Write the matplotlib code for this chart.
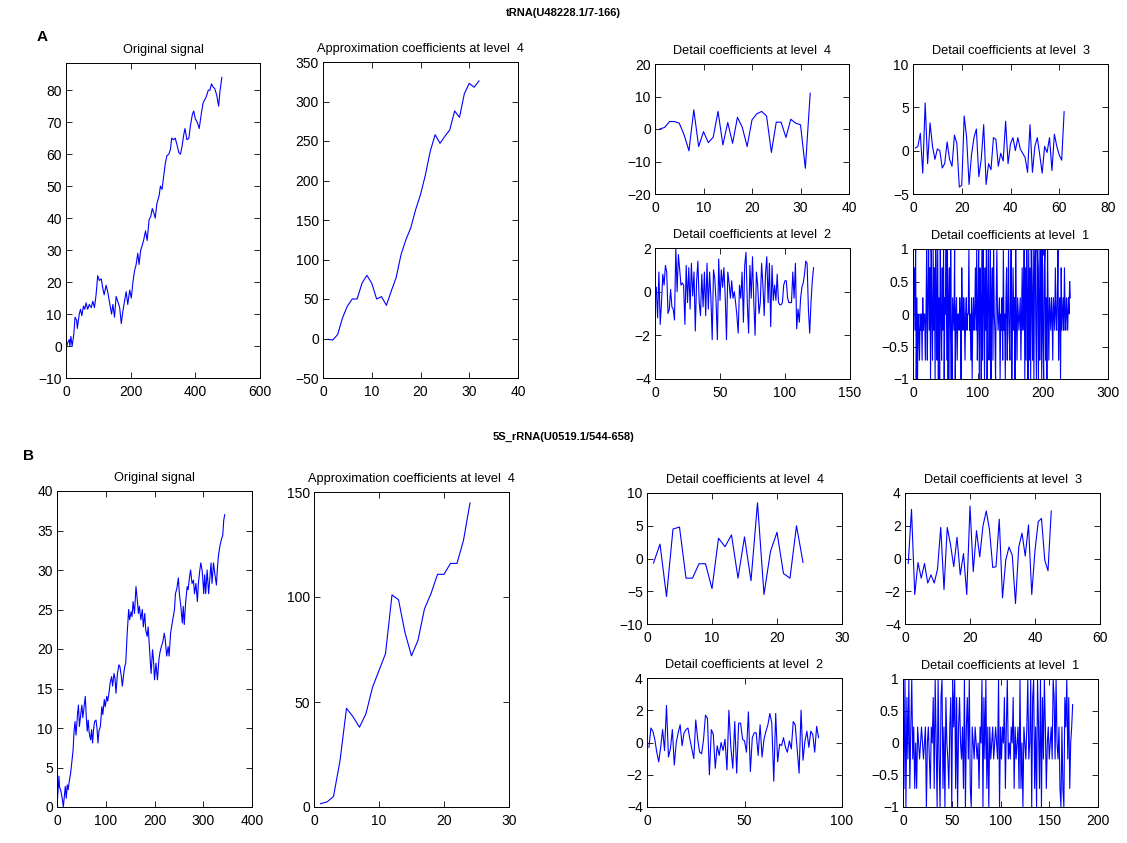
import matplotlib
matplotlib.use("Agg")
import matplotlib.pyplot as plt

plt.rcParams['font.family'] = ['Liberation Sans', 'DejaVu Sans']

W, H = 1127, 843

# ---- tRNA (row A) ----
a_sig_x = [0, 5, 10, 12, 15, 19, 24, 28, 33, 35, 41, 45, 49, 54, 58, 62, 67, 72, 78, 83,
           88, 93, 98, 103, 109, 114, 118, 124, 129, 134, 141, 145, 150, 155, 160, 166, 171, 176, 181, 186,
           191, 197, 202, 207, 212, 217, 222, 226, 231, 236, 241, 246, 251, 257, 262, 267, 272, 276, 281, 288,
           292, 297, 302, 307, 312, 318, 323, 327, 333, 338, 343, 349, 354, 359, 364, 368, 374, 380, 385, 391,
           395, 400, 406, 412, 419, 424, 429, 434, 440, 445, 450, 455, 460, 466, 472, 476, 482]
a_sig_y = [-1, 1, 2, 0, 3, 0, 3.5, 9, 8, 5.5, 10, 11.5, 9.5, 12.5, 11.5, 13.5, 11.5, 13, 12, 14,
           12, 16, 22, 20.5, 21, 18, 16, 19, 17, 14, 10, 13, 9, 15.5, 14, 12, 7, 11, 14, 17,
           13, 17.5, 15, 20, 23.5, 25.5, 29, 25.5, 30, 31.5, 33.5, 36, 33, 39.5, 40.5, 43, 41.5, 40, 44.5, 47,
           50, 49, 53, 57, 59.5, 60, 61.5, 65, 64.5, 65, 63, 60.5, 60, 62.5, 66, 68, 64.5, 65, 69, 72.5,
           73.5, 71, 70, 68, 73, 76, 77, 78, 80, 80, 82, 81, 80.5, 78.5, 75, 79.5, 84]

a_approx4 = [-1, -2, 5, 26, 41, 50, 50, 70, 80, 70, 50, 53, 42, 60, 77, 106, 125, 140, 163, 182,
             207, 237, 258, 247, 256, 264, 288, 280, 310, 323, 318, 326]

a_det4 = [0, 0.5, 2.3, 2.3, 1.8, -1.8, -6.7, 5.9, -5.4, -0.8, -4.2, -2.5, 5.4, -4.9, 2, -4.4,
          3.6, 0.5, -5.4, 2.8, 4.7, 5.4, 4, -7.2, 2.1, 2.1, -2.6, 3, 1.8, 1.3, -12.1, 11]

a_det3 = [0.3, 0.5, 2, -2.6, 5.5, -1.5, 3.2, 0.5, -1, 0.2,
          0, -2, -1.5, 1, -1, -1.8, 1.8, 0.8, -4.2, -4,
          4, 1.5, -3.9, -0.5, 1.5, 2.5, -3, -1, 3, -3.9,
          -1.5, -2.2, 1.5, 1.3, -1.8, -0.3, -1.2, 3.4, -1.5, 0.8,
          1.5, 0, 1.5, 0.2, -0.3, -0.8, -2.5, 3, -2.5, 0.5,
          1.5, -0.5, -2.6, 0.5, -0.2, 1.5, -2.3, 1.9, 0.5, -0.5,
          -1.1, 4.5]

a_det2 = [0.2, -1.2, 0.9, -1.5, -0.5, 0.8, 0.3, 1.2, 0.9, -1,
          -0.8, 0.1, -0.7, -0.8, -1.3, 2, 0, 1.7, 1, 0.3,
          0.4, 0.3, -1.5, 1.2, -0.5, 1.1, -0.8, 1.3, -0.2, 0.9,
          -1.8, 0.5, 1.4, -0.5, -1.1, 0.8, -0.7, 0.9, -1.1, 1.3,
          -0.8, 0.9, -0.3, -2.2, 1, 0.6, -0.5, -2.2, 1.5, -0.4,
          1, 0.2, 1.1, -0.2, -2.2, 0.9, 0.4, -0.3, 0.5, -0.3,
          0, -0.5, -1.1, -1.9, 0.3, -0.3, 0.9, -1.4, 1.2, 1.8,
          -0.5, -1.9, 1.2, -0.3, 1.6, -0.5, -2, 0.9, 0.3, -1,
          -0.5, 1.3, 0.3, -1.1, 0.8, 1.6, -0.5, 1.3, -1.6, 1.2,
          -0.4, 0.3, -0.4, 0.8, -0.5, -0.6, -0.6, -0.5, 0.3, 0.5,
          0.5, -0.3, -0.5, -0.5, -0.5, 0.9, -0.3, 1.3, -1.7, -0.8,
          -1.4, -0.3, 0.2, 0.4, 0.8, 1.4, 1.3, -0.8, -1.9, -0.5,
          0.5, 1.1]

a_det1 = [0.71, 0.71, -0.25, 1, -1, 0.25, -1, 0, -0.25, -0.71,
          0, -0.25, 0, -0.71, 0.25, -0.25, 0, 0, -0.71, 0,
          1, -0.71, 0.25, 1, -0.25, 0.71, -1, 1, 0, -0.71,
          1, -0.25, 0.71, -1, 1, 0.25, -0.71, 1, -1, 0.25,
          -1, 1, 0, -0.71, 0.71, -0.25, 1, -1, 0.25, 0,
          1, -0.71, 1, -1, 0.25, 0.71, -1, 1, -0.25, -1,
          0.25, 0, -0.25, 1, -1, 0, 0.25, -0.71, 0, 0,
          -0.25, 0.25, 0, -1, 0.71, 0, -0.25, 0.25, 0, -0.71,
          0, 0.25, -0.25, 0, 0, 1, -0.25, 0, -0.71, 0.25,
          -1, 0, 0.25, -0.25, 0, 0.71, -0.25, 1, -0.71, 0,
          1, -1, 0.71, 0.25, -1, 1, -0.71, 1, 0.25, -1,
          0.71, -0.25, 1, -1, 0.25, 1, -0.71, 0, 1, -1,
          0.25, 0.71, -0.71, 1, 0, -0.25, -1, 0.25, 1, 0,
          -0.25, 0, 0.25, -1, 0, -0.25, 0.25, -0.71, 1, -0.25,
          0, -1, 0.25, 0.71, -0.71, 0, 1, -0.25, -0.71, 0.25,
          1, -1, 0, 0.71, -0.25, 0.25, -1, 1, 0, -0.71,
          0.25, 0, -0.25, 0, 0.25, -0.71, 0, 0.71, -0.25, 0,
          1, -1, 0.71, -0.71, 1, 0.25, -1, 1, -0.71, 0.71,
          -1, 1, 0.25, -0.71, 1, -1, 0.71, 1, -0.25, -1,
          1, 0.71, -1, 1, -0.71, 0.25, 1, -1, 1, -0.25,
          -1, 0.71, 1, -0.71, 0.25, -1, 1, 0, -0.71, 0.25,
          0, -0.25, 0.25, 0, -0.71, 0.25, 0, -0.25, 0.71, 0,
          -0.25, 0.25, 1, -0.71, 0, 0.25, -1, 0.71, -0.25, 0,
          0.25, -0.25, 0.71, 0, -0.25, 0.25, 0, -0.25, 0.25, 0,
          0.5, 0.25]

# ---- 5S rRNA (row B) ----
b_sig_x = [0, 4, 5, 8, 11, 13, 15, 17, 19, 21, 23, 25, 28, 31, 33, 35, 37, 39, 42, 44,
           46, 49, 51, 53, 56, 58, 60, 62, 64, 66, 69, 71, 73, 75, 77, 80, 82, 84, 86, 89,
           92, 94, 97, 99, 102, 104, 107, 109, 112, 114, 117, 119, 121, 124, 127, 129, 132, 134, 137, 139,
           141, 144, 147, 149, 152, 154, 156, 159, 162, 165, 167, 169, 172, 175, 177, 180, 182, 185, 187, 190,
           193, 196, 198, 200, 203, 206, 209, 211, 214, 217, 220, 222, 225, 228, 230, 233, 235, 238, 241, 243,
           246, 249, 251, 254, 257, 259, 261, 264, 267, 269, 272, 274, 277, 280, 282, 285, 288, 290, 293, 295,
           298, 301, 303, 305, 308, 311, 314, 316, 318, 321, 324, 327, 329, 331, 334, 337, 340, 342, 344]
b_sig_y = [0, 3.9, 2.6, 2, 1, 0, 1.3, 2.6, 1.1, 2.8, 2.2, 3.2, 4.3, 6, 7.2, 9.6, 10.8, 9.1, 11.7, 12.9,
           10.2, 11.9, 12.9, 11.3, 12.9, 14, 11.5, 9.6, 11, 9.4, 8.5, 9.8, 8.1, 9.8, 10.8, 11, 10, 8.1, 9.6, 10.2,
           12.7, 11.7, 13.6, 12.7, 14, 13.4, 14.6, 15.7, 16.5, 15.3, 16.9, 16.3, 14.4, 16.9, 18, 17.8, 16.5, 15.3, 16.9, 17.8,
           18.2, 22, 25, 23.7, 24.7, 24.1, 26, 24.5, 27.9, 26, 24.5, 25.4, 23.7, 25, 22.8, 24.5, 22.4, 21.6, 22.8, 19.9,
           16.9, 19.9, 18.6, 16.1, 18.2, 16.1, 18.6, 19.5, 20.3, 20.9, 22, 21.2, 19.1, 20.3, 19.1, 22, 22.8, 23.9, 25, 27,
           27.7, 29, 27, 25.4, 23.3, 25.4, 23.1, 26, 27.9, 27.5, 29.2, 30, 28.3, 28.7, 27, 28.3, 26, 28.3, 30, 30.9,
           29.8, 27, 29.4, 27, 30, 27, 29.4, 30.9, 28.3, 30.9, 29.4, 28.1, 30.2, 31.7, 33, 33.8, 34.4, 36.3, 37]

b_approx4 = [1.6, 2.4, 5, 22, 47, 43, 38, 44.5, 57, 65, 73, 101, 98.7, 83, 72, 79.4, 94.4, 101.6,
             110.8, 110.8, 116, 116, 127, 144.8]

b_det4 = [-0.7, 2.2, -5.8, 4.5, 4.8, -3, -3, -0.8, -0.8, -4.6, 3.1, 1.8, 3.6, -3, 3.3, -3.4,
          8.5, -5.5, 1.1, 4, -2.3, -3, 5, -0.6]

b_det3 = [-0.3, 3, -2.2, -0.25, -1.2, -0.3, -1.5, -1, -1.5, -0.65,
          1.9, -1.9, 1.9, 0.85, -0.5, 1.3, -1, 0.3, -2.2, 3.2,
          -0.8, 1.7, 0.1, 2, 2.9, 1.75, -0.55, -0.5, 2.4, -2.4,
          -0.1, 0.7, 0.2, -2.75, 0.7, 1.55, 0.15, 2.05, -2.2, 0.5,
          2.25, 2.45, -0.1, -0.75, 2.9]

b_det2 = [-0.3, 0.9, 0.7, 0.2, -0.6, -1.2, -0.3, 0.8, -0.5, 2.3,
          -0.9, -0.4, 0.8, -1.4, 0, 0.6, 1.1, -0.2, 0.6, 0.8,
          0.9, 0.2, -0.4, -1, 1.4, 0.2, -0.6, -0.7, 0.2, 1.7,
          1.5, -2, 0.8, 0.5, -1.6, -0.2, -0.8, 0, -0.5, 0.2,
          -1.7, 2, -0.3, -1.6, 1.3, -1.9, 1.2, 1.2, 0.2, 0.1,
          -0.6, 1.9, -1.8, 0.3, 0.6, 0.6, -0.8, 1.1, -0.9, 0.2,
          0.7, 1.1, 1.8, 1.2, -2.4, 1.8, -1.2, -0.1, -0.2, 0.3,
          -0.3, -0.6, 0.1, -0.4, 1.3, 1.1, -0.4, -1.9, 2, -1.1,
          0.1, 0.7, -0.3, 0.7, 0.5, -0.6, 1, 0.3]

b_det1 = [-0.71, 1, -1, 0.71, -0.25, 1, -0.71, 0.25, 1, -0.25,
          0.25, -0.71, 0, -0.71, 0.25, 0, -0.25, 0, 0.25, 0,
          -0.25, 0, 0.25, -1, 0, 0.25, -0.25, -0.71, 0.25, 0,
          0.71, -0.71, 1, 0, -1, 1, -0.25, -1, 0.71, 1,
          -0.71, 0.25, -1, 0.71, 0, -0.25, -0.71, 0.25, 0.71, -1,
          1, 0.25, 1, -0.71, 0.71, -1, 0.25, 0.71, 0, -0.25,
          0.25, -0.71, 1, -1, 0.25, 0.71, -0.25, 1, -0.71, -1,
          0.25, 0, -0.25, 0.25, 0, -0.25, 0, -0.71, 0.25, 0,
          1, -1, 0.71, -0.25, 1, -0.71, 0.25, -1, 0.25, -0.25,
          0, 0.25, -0.25, 0, 0.25, 0, -0.25, 1, -1, 0.25,
          -0.25, 0.25, 0, 0.71, -0.71, 0.25, 1, -0.25, 0, -0.25,
          0.25, 0, 0.71, -0.71, 0.25, -0.25, 0, 0.25, -0.71, 1,
          -0.71, 0, -1, 0.25, 0, -0.25, 0.25, 1, -0.25, 0,
          1, -1, 0.71, 1, -0.71, 0.25, -1, 1, 0.25, -0.71,
          1, -1, 0.71, -0.25, 1, 0.25, -0.71, 0, 0.25, -0.25,
          0, 0.25, -0.25, 1, 0.71, -0.25, 1, 0, -0.25, 0.25,
          -0.71, -1, 0.25, -0.71, -1, 0.71, 0.25, 1, -0.25, 0.71,
          -0.71, 0, 0.25, 0.6]

fig = plt.figure(figsize=(W / 100, H / 100), dpi=100)


def panel(box, title, x, y, xlim, xticks, ylim, yticks, yfmt=None):
    l, t, r, b = box
    ax = fig.add_axes([l / W, 1 - b / H, (r - l) / W, (b - t) / H])
    ax.plot(x, y, color='#0000ff', lw=0.8)
    ax.set_xlim(xlim)
    ax.set_ylim(ylim)
    ax.set_xticks(xticks)
    ax.set_yticks(yticks)
    if yfmt:
        ax.set_yticklabels(yfmt)
    ax.tick_params(direction='in', top=True, right=True, length=4, width=0.6,
                   labelsize=10, pad=3)
    ax.tick_params(axis='x', pad=5)
    for s in ax.spines.values():
        s.set_linewidth(0.7)
    ax.set_title(title, fontsize=9.2, pad=7.5)
    return ax


def idx(vals):
    return list(range(1, len(vals) + 1))


lev1 = ['\u22121', '\u22120.5', '0', '0.5', '1']

# row A
panel((66, 63, 260, 378), 'Original signal', a_sig_x, a_sig_y,
      (0, 600), [0, 200, 400, 600], (-10, 88.5), range(-10, 81, 10))
panel((323, 62, 518, 378), 'Approximation coefficients at level  4', idx(a_approx4), a_approx4,
      (0, 40), range(0, 41, 10), (-50, 350), range(-50, 351, 50))
panel((655, 64, 849, 194), 'Detail coefficients at level  4', idx(a_det4), a_det4,
      (0, 40), range(0, 41, 10), (-20, 20), range(-20, 21, 10))
panel((913, 64, 1108, 194), 'Detail coefficients at level  3', idx(a_det3), a_det3,
      (0, 80), range(0, 81, 20), (-5, 10), [-5, 0, 5, 10])
panel((655, 248, 850, 379), 'Detail coefficients at level  2', idx(a_det2), a_det2,
      (0, 150), [0, 50, 100, 150], (-4, 2), [-4, -2, 0, 2])
panel((913, 249, 1108, 379), 'Detail coefficients at level  1', idx(a_det1), a_det1,
      (0, 300), [0, 100, 200, 300], (-1, 1), [-1, -0.5, 0, 0.5, 1], lev1)

# row B
panel((57, 491, 252, 807), 'Original signal', b_sig_x, b_sig_y,
      (0, 400), range(0, 401, 100), (0, 40), range(0, 41, 5))
panel((314, 492, 509, 807), 'Approximation coefficients at level  4', idx(b_approx4), b_approx4,
      (0, 30), [0, 10, 20, 30], (0, 150), [0, 50, 100, 150])
panel((647, 493, 842, 624), 'Detail coefficients at level  4', idx(b_det4), b_det4,
      (0, 30), [0, 10, 20, 30], (-10, 10), [-10, -5, 0, 5, 10])
panel((905, 493, 1100, 624), 'Detail coefficients at level  3', idx(b_det3), b_det3,
      (0, 60), [0, 20, 40, 60], (-4, 4), [-4, -2, 0, 2, 4])
panel((647, 678, 842, 807), 'Detail coefficients at level  2', idx(b_det2), b_det2,
      (0, 100), [0, 50, 100], (-4, 4), [-4, -2, 0, 2, 4])
panel((903, 679, 1098, 807), 'Detail coefficients at level  1', idx(b_det1), b_det1,
      (0, 200), [0, 50, 100, 150, 200], (-1, 1), [-1, -0.5, 0, 0.5, 1], lev1)

fig.text(563 / W, 1 - 13 / H, 'tRNA(U48228.1/7-166)', ha='center', va='center',
         fontsize=8, fontweight='bold')
fig.text(563 / W, 1 - 437 / H, '5S_rRNA(U0519.1/544-658)', ha='center', va='center',
         fontsize=8, fontweight='bold')
fig.text(42 / W, 1 - 37 / H, 'A', ha='center', va='center', fontsize=11, fontweight='bold')
fig.text(29 / W, 1 - 456 / H, 'B', ha='center', va='center', fontsize=11, fontweight='bold')

fig.savefig('out.png', dpi=100)
